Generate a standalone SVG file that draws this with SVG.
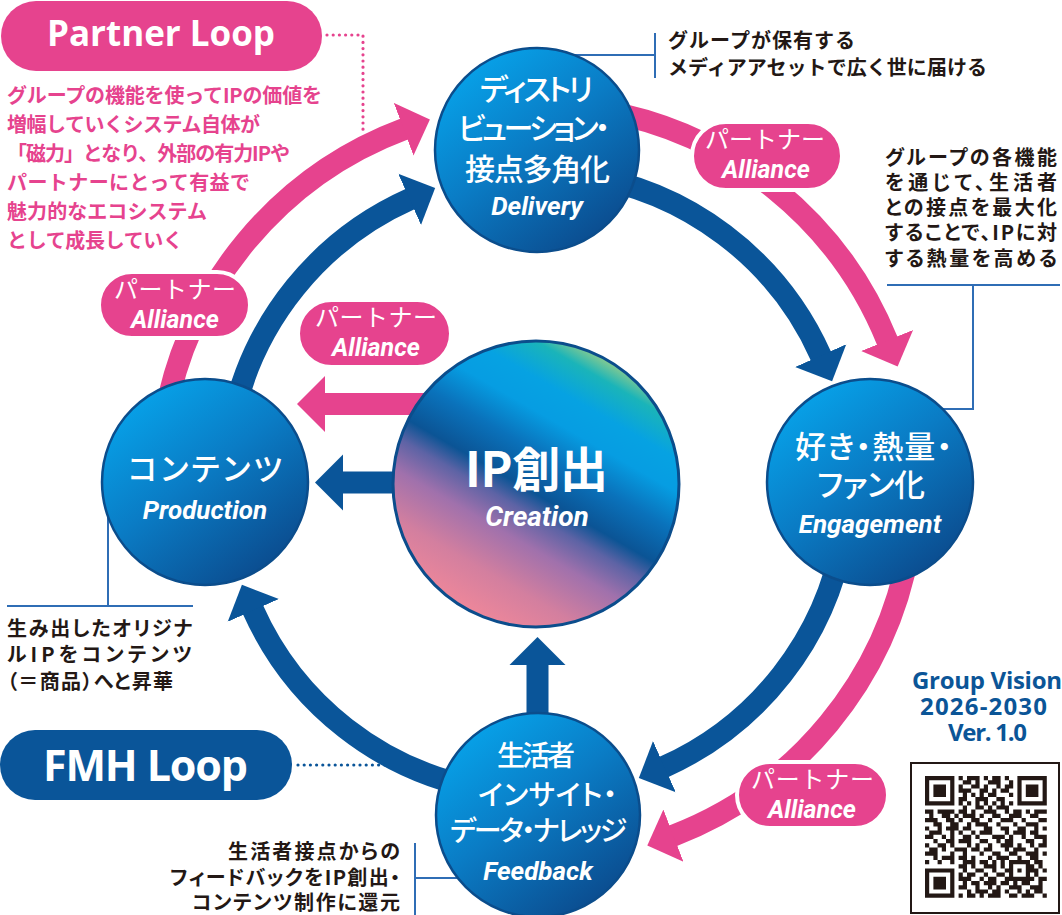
<svg xmlns="http://www.w3.org/2000/svg" width="1062" height="915" viewBox="0 0 1062 915">
<defs>
<style>
.band-blue{fill:none;stroke:#0a5599;stroke-width:22}
.band-pink{fill:none;stroke:#e6438e;stroke-width:22}
.pill-pink{fill:#e6438e;stroke:#fff;stroke-width:4}
.node{fill:url(#nodeGrad);stroke:#0b4d8c;stroke-width:2.5}
.lead{fill:none;stroke:#2f6db5;stroke-width:2}
.node-jp{font-family:"Noto Sans CJK JP",sans-serif;font-weight:500;fill:#fff;font-feature-settings:"palt"}
.en-it{font-family:Roboto,"Liberation Sans",sans-serif;font-style:italic;font-weight:700;fill:#fff;text-anchor:middle}
.pill-jp{font-family:"Noto Sans CJK JP",sans-serif;font-weight:400;font-size:24px;fill:#fff}
.note{font-family:"Noto Sans CJK JP",sans-serif;font-weight:700;font-size:20px;fill:#231815}
.note-pink{font-family:"Noto Sans CJK JP",sans-serif;font-weight:700;font-size:20px;fill:#e6438e}
.loop{font-family:"Open Sans","Liberation Sans",sans-serif;font-weight:700;fill:#fff}
.gv{font-family:"Open Sans","Liberation Sans",sans-serif;font-weight:700;font-size:24px;fill:#0b5597}
</style>
<linearGradient id="nodeGrad" x1="0.2" y1="0.1" x2="0.8" y2="0.9">
<stop offset="0" stop-color="#079fe6"/>
<stop offset="0.45" stop-color="#0a7cc5"/>
<stop offset="1" stop-color="#0b4e91"/>
</linearGradient>
<linearGradient id="ipGrad" gradientUnits="userSpaceOnUse" x1="464" y1="608.7" x2="608" y2="359.3">
<stop offset="0" stop-color="#ee879a"/>
<stop offset="0.15" stop-color="#d37f9f"/>
<stop offset="0.3" stop-color="#a071ac"/>
<stop offset="0.4" stop-color="#5d63a5"/>
<stop offset="0.47" stop-color="#0b5495"/>
<stop offset="0.6" stop-color="#0a72bb"/>
<stop offset="0.72" stop-color="#069de2"/>
<stop offset="0.82" stop-color="#06a2e2"/>
<stop offset="0.93" stop-color="#1ab4b9"/>
<stop offset="1" stop-color="#8ccb8e"/>
</linearGradient>
<marker id="headB" markerUnits="userSpaceOnUse" viewBox="0 -29 29 58" refX="1" refY="0" markerWidth="29" markerHeight="58" orient="auto">
<path d="M0 -28 L28 0 L0 28 Z" fill="#0a5599"/>
</marker>
<marker id="headP" markerUnits="userSpaceOnUse" viewBox="0 -29 29 58" refX="1" refY="0" markerWidth="29" markerHeight="58" orient="auto">
<path d="M0 -28 L28 0 L0 28 Z" fill="#e6438e"/>
</marker>
</defs>
<rect width="1062" height="915" fill="#fff"/>

<g id="connectors">
<path class="band-pink" d="M164.7 417.4 A378 378 0 0 1 404.6 128.9" marker-end="url(#headP)"/>
<path class="band-pink" d="M602.6 110.7 A378 378 0 0 1 887.5 341.4" marker-end="url(#headP)"/>
<path class="band-pink" d="M909.3 548.6 A378 378 0 0 1 672.5 835.9" marker-end="url(#headP)"/>
<path class="band-blue" d="M232.8 418.3 A311 311 0 0 1 410.5 198.9" marker-end="url(#headB)"/>
<path class="band-blue" d="M580.3 175 A311 311 0 0 1 821.1 356.5" marker-end="url(#headB)"/>
<path class="band-blue" d="M843.3 537 A311 311 0 0 1 663.5 767.1" marker-end="url(#headB)"/>
<path class="band-blue" d="M483 789.3 A311 311 0 0 1 252.9 609.5" marker-end="url(#headB)"/>
<path class="band-pink" d="M430 404 H324" marker-end="url(#headP)"/>
<path class="band-blue" d="M420 482.5 H342" marker-end="url(#headB)"/>
<path class="band-blue" d="M537.5 725 V664" marker-end="url(#headB)"/>
<path d="M327 35 H363 V134" fill="none" stroke="#e6438e" stroke-width="3.2" stroke-linecap="round" stroke-dasharray="0 6.2"/>
<path d="M298 765 H385" fill="none" stroke="#0a5599" stroke-width="3.2" stroke-linecap="round" stroke-dasharray="0 6.2"/>
<path class="lead" d="M574 55 H655 M655 33 V78"/>
<path class="lead" d="M887 285 H1060 M973 285 V409 H943"/>
<path class="lead" d="M7 606 H193 M108 517 V606"/>
<path class="lead" d="M415 843 V915 M415 878 H458"/>
</g>

<g id="alliance-1">
<rect class="pill-pink" x="692" y="122" width="150" height="68" rx="34"/>
<text class="pill-jp" x="705" y="148" textLength="120">パートナー</text>
<text class="en-it" x="766" y="178" font-size="25">Alliance</text>
</g>
<g id="alliance-2">
<rect class="pill-pink" x="99" y="272" width="151" height="66" rx="33"/>
<text class="pill-jp" x="114" y="298" textLength="122">パートナー</text>
<text class="en-it" x="175" y="328" font-size="25">Alliance</text>
</g>
<g id="alliance-3">
<rect class="pill-pink" x="298" y="300" width="153" height="67" rx="33.5"/>
<text class="pill-jp" x="315" y="326" textLength="122">パートナー</text>
<text class="en-it" x="376" y="356" font-size="25">Alliance</text>
</g>
<g id="alliance-4">
<rect class="pill-pink" x="737" y="762" width="151" height="66" rx="33"/>
<text class="pill-jp" x="751" y="788" textLength="123">パートナー</text>
<text class="en-it" x="812" y="818" font-size="25">Alliance</text>
</g>

<g id="creation">
<circle cx="536" cy="484" r="143" fill="url(#ipGrad)" stroke="#0b4d8c" stroke-width="3"/>
<text x="465" y="487" textLength="143" font-family="'Noto Sans CJK JP',sans-serif" font-weight="700" font-size="48" fill="#fff">IP創出</text>
<text class="en-it" x="537" y="526" font-size="28">Creation</text>
</g>

<g id="delivery">
<circle class="node" cx="537" cy="150" r="102"/>
<text class="node-jp" x="480" y="100" font-size="30" textLength="113">ディストリ</text>
<text class="node-jp" x="458" y="139" font-size="30" textLength="152">ビューション・</text>
<text class="node-jp" x="465" y="180" font-size="30" textLength="145">接点多角化</text>
<text class="en-it" x="537" y="215" font-size="26">Delivery</text>
</g>

<g id="engagement">
<circle class="node" cx="870" cy="482" r="103"/>
<text class="node-jp" x="795" y="458" font-size="31" textLength="157">好き・熱量・</text>
<text class="node-jp" x="817" y="496" font-size="31" textLength="108">ファン化</text>
<text class="en-it" x="870" y="533" font-size="26">Engagement</text>
</g>

<g id="production">
<circle class="node" cx="205" cy="482" r="103"/>
<text class="node-jp" x="128" y="480" font-size="31" textLength="154">コンテンツ</text>
<text class="en-it" x="205" y="519" font-size="26">Production</text>
</g>

<g id="feedback">
<circle class="node" cx="538" cy="815" r="102"/>
<text class="node-jp" x="497" y="766" font-size="28" textLength="78">生活者</text>
<text class="node-jp" x="478" y="805" font-size="28" textLength="139">インサイト・</text>
<text class="node-jp" x="450" y="841" font-size="28" textLength="177">データ・ナレッジ</text>
<text class="en-it" x="538" y="880" font-size="26">Feedback</text>
</g>

<g id="partner-loop">
<rect x="1" y="1" width="321" height="70" rx="35" fill="#e6438e"/>
<text class="loop" x="47" y="46" font-size="35" textLength="228">Partner Loop</text>
<text class="note-pink" x="7" y="103" textLength="315">グループの機能を使ってIPの価値を</text>
<text class="note-pink" x="7" y="132" textLength="253">増幅していくシステム自体が</text>
<text class="note-pink" x="7" y="161" textLength="283">「磁力」となり、外部の有力IPや</text>
<text class="note-pink" x="7" y="190" textLength="243">パートナーにとって有益で</text>
<text class="note-pink" x="7" y="219" textLength="200">魅力的なエコシステム</text>
<text class="note-pink" x="7" y="248" textLength="176">として成長していく</text>
</g>

<g id="fmh-loop">
<rect x="0" y="730" width="292" height="70" rx="35" fill="#0a5599"/>
<text class="loop" x="43" y="781" font-size="43" textLength="205">FMH Loop</text>
</g>

<g id="note-delivery">
<text class="note" x="668" y="48" textLength="187">グループが保有する</text>
<text class="note" x="668" y="75" textLength="319">メディアアセットで広く世に届ける</text>
</g>

<g id="note-engagement" style="font-feature-settings:'palt'">
<text class="note" x="885" y="165" textLength="172">グループの各機能</text>
<text class="note" x="885" y="190" textLength="172">を通じて、生活者</text>
<text class="note" x="885" y="215" textLength="172">との接点を最大化</text>
<text class="note" x="885" y="240" textLength="172">することで、IPに対</text>
<text class="note" x="885" y="266" textLength="172">する熱量を高める</text>
</g>

<g id="note-production" style="font-feature-settings:'palt'">
<text class="note" x="7" y="636" textLength="185">生み出したオリジナ</text>
<text class="note" x="7" y="662" textLength="185">ルIPをコンテンツ</text>
<text class="note" x="7" y="689" textLength="166">（＝商品）へと昇華</text>
</g>

<g id="note-feedback" style="font-feature-settings:'palt'">
<text class="note" x="228" y="859" textLength="172">生活者接点からの</text>
<text class="note" x="170" y="885" textLength="230">フィードバックをIP創出・</text>
<text class="note" x="192" y="910" textLength="208">コンテンツ制作に還元</text>
</g>

<g id="group-vision">
<text class="gv" x="912" y="689" textLength="150">Group Vision</text>
<text class="gv" x="920" y="715" textLength="127">2026-2030</text>
<text class="gv" x="948" y="741" textLength="79">Ver. 1.0</text>
</g>

<g id="qr">
<rect x="911" y="763" width="148" height="150" fill="#fff" stroke="#231815" stroke-width="2"/>
<g transform="translate(925 776) scale(4.2)" fill="#231815">
<path fill-rule="evenodd" d="M0 0h7v7h-7z M1 1v5h5v-5z M2 2h3v3h-3z M22 0h7v7h-7z M23 1v5h5v-5z M24 2h3v3h-3z M0 22h7v7h-7z M1 23v5h5v-5z M2 24h3v3h-3z M20 20h5v5h-5z M21 21v3h3v-3z M22 22h1v1h-1z"/>
<path fill="none" stroke="#231815" stroke-width="1" d="M8 .5h1M10 .5h3M14 .5h1M16 .5h2M19 .5h1M9 1.5h2M12 1.5h1M15 1.5h3M20 1.5h1M8 2.5h1M11 2.5h2M14 2.5h1M17 2.5h1M19 2.5h2M8 3.5h3M13 3.5h2M16 3.5h1M18 3.5h2M9 4.5h1M11 4.5h1M13 4.5h1M15 4.5h2M20 4.5h1M8 5.5h2M12 5.5h3M17 5.5h2M8 6.5h1M10 6.5h1M12 6.5h1M14 6.5h1M16 6.5h1M18 6.5h1M20 6.5h1M9 7.5h1M12 7.5h2M15 7.5h1M17 7.5h3M0 8.5h2M3 8.5h3M6 8.5h1M8 8.5h2M11 8.5h1M14 8.5h3M19 8.5h1M21 8.5h2M24 8.5h1M26 8.5h3M1 9.5h1M4 9.5h2M7 9.5h1M9 9.5h3M13 9.5h1M16 9.5h2M20 9.5h3M25 9.5h2M0 10.5h3M5 10.5h2M8 10.5h1M11 10.5h2M15 10.5h1M18 10.5h3M23 10.5h1M27 10.5h2M2 11.5h2M6 11.5h2M10 11.5h1M12 11.5h3M17 11.5h1M21 11.5h1M24 11.5h3M0 12.5h1M3 12.5h1M5 12.5h3M9 12.5h2M14 12.5h2M18 12.5h2M22 12.5h2M26 12.5h1M28 12.5h1M1 13.5h3M6 13.5h1M8 13.5h1M11 13.5h1M13 13.5h3M19 13.5h1M21 13.5h3M25 13.5h2M0 14.5h2M4 14.5h1M6 14.5h1M9 14.5h2M12 14.5h1M16 14.5h3M20 14.5h1M23 14.5h1M26 14.5h3M2 15.5h1M5 15.5h2M8 15.5h3M13 15.5h2M17 15.5h1M19 15.5h2M24 15.5h2M28 15.5h1M0 16.5h1M3 16.5h2M6 16.5h1M10 16.5h1M12 16.5h1M15 16.5h1M18 16.5h3M22 16.5h1M25 16.5h1M27 16.5h2M1 17.5h2M4 17.5h1M7 17.5h3M11 17.5h2M14 17.5h2M19 17.5h1M21 17.5h3M26 17.5h1M0 18.5h3M6 18.5h1M9 18.5h1M13 18.5h1M16 18.5h2M20 18.5h2M24 18.5h3M28 18.5h1M2 19.5h1M4 19.5h3M8 19.5h2M11 19.5h1M15 19.5h1M17 19.5h3M22 19.5h1M25 19.5h2M0 20.5h1M3 20.5h1M6 20.5h1M9 20.5h3M13 20.5h2M16 20.5h1M18 20.5h1M26 20.5h2M8 21.5h2M11 21.5h1M14 21.5h3M18 21.5h1M25 21.5h1M27 21.5h1M9 22.5h1M12 22.5h2M16 22.5h1M19 22.5h1M25 22.5h2M28 22.5h1M8 23.5h1M10 23.5h2M14 23.5h1M17 23.5h2M26 23.5h1M8 24.5h3M13 24.5h1M15 24.5h2M19 24.5h1M25 24.5h1M27 24.5h2M9 25.5h1M11 25.5h2M14 25.5h3M18 25.5h2M21 25.5h1M23 25.5h2M27 25.5h1M8 26.5h2M12 26.5h1M15 26.5h1M17 26.5h1M20 26.5h3M25 26.5h3M10 27.5h1M12 27.5h3M16 27.5h2M19 27.5h1M22 27.5h1M24 27.5h1M26 27.5h2M8 28.5h1M10 28.5h2M13 28.5h1M15 28.5h3M20 28.5h2M23 28.5h3M28 28.5h1"/>
</g>
</g>
</svg>
